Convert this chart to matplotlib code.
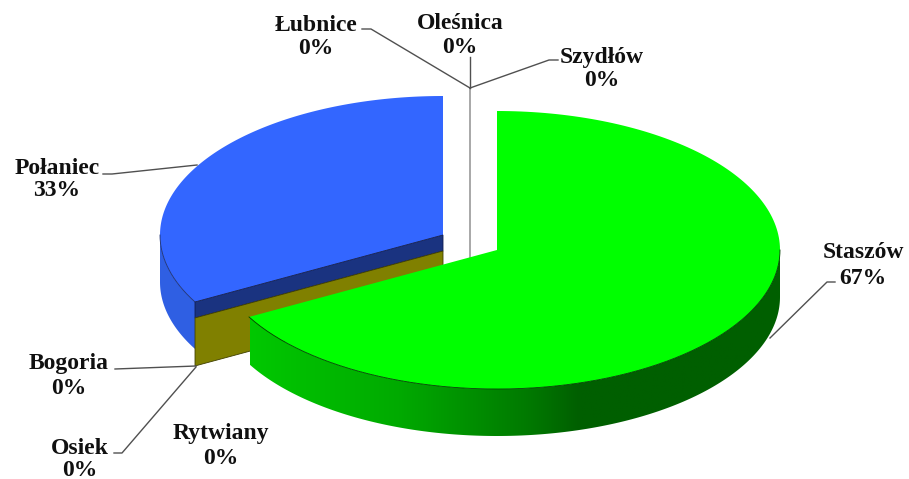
import numpy as np
import matplotlib
matplotlib.use("Agg")
import matplotlib.pyplot as plt
from matplotlib.colors import LinearSegmentedColormap
from matplotlib.patches import Polygon

# clockwise from 12 o'clock
names = ["Staszów", "Rytwiany", "Osiek", "Bogoria", "Połaniec", "Łubnice", "Oleśnica", "Szydłów"]
shares = [67, 0, 0, 0, 33, 0, 0, 0]

# label centres (x, y of the name line, y of the percent line), picture pixels
label_x = [863, 221, 80, 69, 57, 316, 460, 602]
label_y1 = [253, 434, 449, 364, 168, 25, 23, 57]
label_y2 = [279, 458, 470, 389, 191, 48, 47, 80]

leaders = [
    [(835, 282), (827, 282), (770, 338)],
    [],
    [(114, 453), (122, 453), (196, 367)],
    [(115, 369), (196, 366)],
    [(103, 174), (112, 174), (197, 165)],
    [(362, 29), (371, 29), (470, 88)],
    [(470, 57), (470, 88)],
    [(470, 88), (549, 60), (558, 60)],
]

RX, RY = 283, 139
DEPTH = 47
GREEN_C = (497, 250)
BLUE_C = (443, 235)


def rim(center, a0, a1, n=200):
    """Points on the pie ellipse, angles in degrees clockwise from the top."""
    t = np.radians(np.linspace(a0, a1, n))
    return np.column_stack([center[0] + RX * np.sin(t), center[1] - RY * np.cos(t)])


def side(center, a0, a1):
    top = rim(center, a0, a1)
    return np.vstack([top, (top + [0, DEPTH])[::-1]])


sweep = np.cumsum([s / sum(shares) * 360 for s in shares])
green_end = sweep[0]                 # end of Staszów
blue_start = sweep[4] - shares[4] / sum(shares) * 360

fig = plt.figure(figsize=(9.09, 4.79), dpi=100)
ax = fig.add_axes([0, 0, 1, 1])

# grey centre line seen through the gap
ax.plot([470, 470], [88, 258], color="#a8a8a8", lw=1.4, zorder=1)

# blue slice
blue_tip = rim(BLUE_C, blue_start, blue_start, 1)[0]
ax.add_patch(Polygon(side(BLUE_C, blue_start, 270), fc="#2f5fe3", ec="none", zorder=2))
ax.add_patch(Polygon(np.vstack([rim(BLUE_C, blue_start, 360), [BLUE_C]]),
                     fc="#3366ff", ec="none", zorder=3))
front = rim(BLUE_C, blue_start, 270)
ax.plot(front[:, 0], front[:, 1], color="#1c2f70", lw=0.6, zorder=3)

# cut faces: blue, then the zero slices in olive
cx, cy = BLUE_C
band = 16
ax.add_patch(Polygon([blue_tip, BLUE_C, (cx, cy + band), blue_tip + [0, band]],
                     fc="#1a3380", ec="#101c50", lw=0.6, zorder=3))
ax.add_patch(Polygon([blue_tip + [0, band], (cx, cy + band), (cx, cy + band + 48),
                      blue_tip + [0, band + 48]],
                     fc="#808000", ec="#404000", lw=0.6, zorder=3))

# green slice side with its gradient
stops = [(0.0, "#00c800"), (0.28, "#00aa00"), (0.53, "#007800"), (0.62, "#005f00"), (1.0, "#005f00")]
cmap = LinearSegmentedColormap.from_list("green_side", stops)
outline = Polygon(side(GREEN_C, 90, green_end), fc="none", ec="none", zorder=5)
ax.add_patch(outline)
img = ax.imshow(np.linspace(0, 1, 256)[None, :], cmap=cmap, aspect="auto",
                extent=(250, 781, 440, 250), zorder=4)
img.set_clip_path(outline)

# green cut face is hidden, only the top shows
ax.add_patch(Polygon(np.vstack([rim(GREEN_C, 0, green_end), [GREEN_C]]),
                     fc="#00ff00", ec="none", zorder=6))
front = rim(GREEN_C, 90, green_end)
ax.plot(front[:, 0], front[:, 1], color="#004000", lw=0.6, zorder=6)

# labels and leader lines
for i, name in enumerate(names):
    ax.text(label_x[i], label_y1[i], name, ha="center", va="center", fontsize=17,
            family="Liberation Serif", fontweight="bold", color="#101010", zorder=8)
    ax.text(label_x[i], label_y2[i], f"{shares[i]}%", ha="center", va="center", fontsize=17,
            family="Liberation Serif", fontweight="bold", color="#101010", zorder=8)
    if leaders[i]:
        xs, ys = zip(*leaders[i])
        ax.plot(xs, ys, color="#505050", lw=1.0, zorder=7)

ax.set_xlim(0, 909)
ax.set_ylim(479, 0)
ax.axis("off")
fig.savefig("out.png", dpi=100)
